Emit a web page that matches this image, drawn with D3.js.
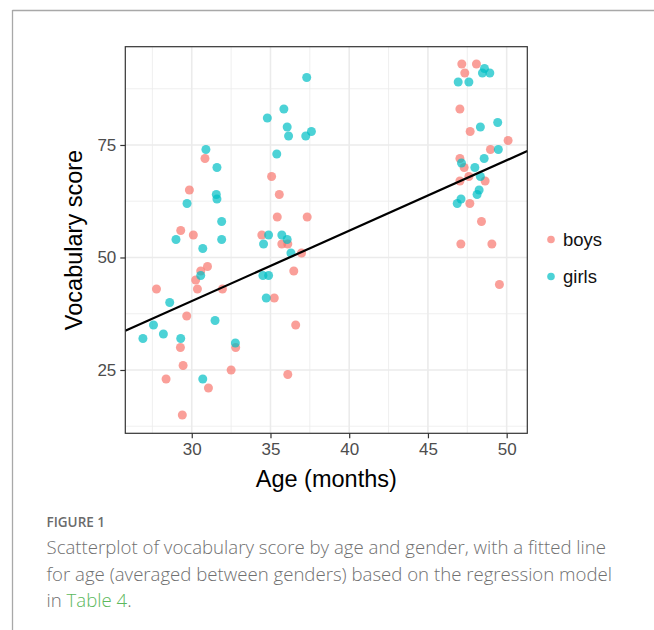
<!DOCTYPE html>
<html>
<head>
<meta charset="utf-8">
<script src="https://cdn.jsdelivr.net/npm/d3@7"></script>
<style>
  html, body { margin: 0; padding: 0; background: #fff; }
  svg { display: block; }
</style>
</head>
<body>
<svg id="chart" width="654" height="630"></svg>
<script>
// values
const boysAge = [30.84, 29.85, 29.3, 30.1, 31.0, 30.57, 30.25, 27.76, 30.36, 31.95, 29.68, 32.79, 29.28, 29.45, 32.5, 28.37, 31.06, 29.4,
  35.07, 35.56, 35.43, 37.33, 34.45, 35.72, 36.1, 36.97, 36.48, 35.24, 36.6, 36.1,
  47.15, 48.08, 47.34, 47.03, 47.68, 50.09, 48.97, 47.03, 47.3, 47.03, 47.6, 48.63, 47.66, 48.4, 47.09, 49.06, 49.54];
const boysScore = [72, 65, 56, 55, 48, 47, 45, 43, 43, 43, 37, 30, 30, 26, 25, 23, 21, 15,
  68, 64, 59, 59, 55, 53, 53, 51, 47, 41, 35, 24,
  93, 93, 91, 83, 78, 76, 74, 72, 70, 67, 68, 67, 62, 58, 53, 53, 44];
const girlsAge = [30.9, 31.6, 31.56, 31.6, 29.7, 31.9, 29.0, 31.9, 30.7, 30.57, 28.6, 31.48, 27.57, 26.9, 28.2, 29.3, 32.77, 30.7,
  37.3, 35.85, 34.8, 36.06, 37.6, 36.15, 37.24, 35.4, 34.88, 35.72, 36.06, 34.56, 36.3, 34.52, 34.88, 34.73,
  48.59, 48.46, 48.93, 46.92, 47.6, 49.43, 48.33, 49.47, 48.57, 47.13, 47.98, 48.33, 48.25, 48.12, 47.1, 46.86];
const girlsScore = [74, 70, 64, 63, 62, 58, 54, 54, 52, 46, 40, 36, 35, 32, 33, 32, 31, 23,
  90, 83, 81, 79, 78, 77, 77, 73, 55, 55, 54, 53, 51, 46, 46, 41,
  92, 91, 91, 89, 89, 80, 79, 74, 72, 71, 70, 68, 65, 64, 63, 62];

const xTicks = [30, 35, 40, 45, 50];
const yTicks = [25, 50, 75];
const groups = ['boys', 'girls'];
const groupColors = ['#F8766D', '#00BFC4'];

// fitted line: score = intercept + slope * age
const fitIntercept = -6.65;
const fitSlope = 1.565;

const captionHead = 'FIGURE 1';
const captionLines = [
  'Scatterplot of vocabulary score by age and gender, with a fitted line',
  'for age (averaged between genders) based on the regression model'
];

const svg = d3.select('#chart');
const panel = { left: 125.3, right: 527.3, top: 46.7, bottom: 433.3 };

const x = d3.scaleLinear().domain([25.78, 51.31]).range([panel.left, panel.right]);
const y = d3.scaleLinear().domain([10.93, 96.84]).range([panel.bottom, panel.top]);
const color = d3.scaleOrdinal().domain(groups).range(groupColors);

// outer figure frame
svg.append('line').attr('x1', 12.5).attr('x2', 654).attr('y1', 10.5).attr('y2', 10.5)
  .attr('stroke', '#a8a8a8').attr('stroke-width', 1.3);
svg.append('line').attr('x1', 12.5).attr('x2', 12.5).attr('y1', 10).attr('y2', 630)
  .attr('stroke', '#a8a8a8').attr('stroke-width', 1.3);

// grid
const grid = svg.append('g');
const xMinor = d3.range(27.5, 51, 5);
const yMinor = [12.5, 37.5, 62.5, 87.5];
grid.selectAll('.xmin').data(xMinor).join('line')
  .attr('x1', d => x(d)).attr('x2', d => x(d)).attr('y1', panel.top).attr('y2', panel.bottom)
  .attr('stroke', '#ebebeb').attr('stroke-width', 0.8);
grid.selectAll('.ymin').data(yMinor).join('line')
  .attr('y1', d => y(d)).attr('y2', d => y(d)).attr('x1', panel.left).attr('x2', panel.right)
  .attr('stroke', '#ebebeb').attr('stroke-width', 0.8);
grid.selectAll('.xmaj').data(xTicks).join('line')
  .attr('x1', d => x(d)).attr('x2', d => x(d)).attr('y1', panel.top).attr('y2', panel.bottom)
  .attr('stroke', '#ebebeb').attr('stroke-width', 1.6);
grid.selectAll('.ymaj').data(yTicks).join('line')
  .attr('y1', d => y(d)).attr('y2', d => y(d)).attr('x1', panel.left).attr('x2', panel.right)
  .attr('stroke', '#ebebeb').attr('stroke-width', 1.6);

// points
const points = [];
boysAge.forEach((a, i) => points.push({ age: a, score: boysScore[i], g: 'boys' }));
girlsAge.forEach((a, i) => points.push({ age: a, score: girlsScore[i], g: 'girls' }));

svg.append('g').selectAll('circle').data(points).join('circle')
  .attr('cx', d => x(d.age)).attr('cy', d => y(d.score)).attr('r', 4.5)
  .attr('fill', d => color(d.g)).attr('fill-opacity', 0.7);

// fitted line across the panel
const [x0, x1] = x.domain();
svg.append('line')
  .attr('x1', x(x0)).attr('y1', y(fitIntercept + fitSlope * x0))
  .attr('x2', x(x1)).attr('y2', y(fitIntercept + fitSlope * x1))
  .attr('stroke', '#000').attr('stroke-width', 2.2);

// panel border
svg.append('rect')
  .attr('x', panel.left).attr('y', panel.top)
  .attr('width', panel.right - panel.left).attr('height', panel.bottom - panel.top)
  .attr('fill', 'none').attr('stroke', '#333').attr('stroke-width', 1.2);

// axes
const font = 'Liberation Sans, Arial, sans-serif';
const xAxis = svg.append('g').attr('transform', `translate(0,${panel.bottom})`)
  .call(d3.axisBottom(x).tickValues(xTicks).tickSize(5).tickPadding(5));
const yAxis = svg.append('g').attr('transform', `translate(${panel.left},0)`)
  .call(d3.axisLeft(y).tickValues(yTicks).tickSize(5).tickPadding(4));
[xAxis, yAxis].forEach(ax => {
  ax.select('.domain').remove();
  ax.selectAll('.tick line').attr('stroke', '#333').attr('stroke-width', 1.2);
  ax.selectAll('.tick text').attr('fill', '#4d4d4d')
    .style('font-family', font).style('font-size', '17px');
});

svg.append('text').attr('x', (panel.left + panel.right) / 2).attr('y', 487)
  .attr('text-anchor', 'middle').style('font-family', font).style('font-size', '23.5px')
  .text('Age (months)');
svg.append('text')
  .attr('transform', `translate(82,${(panel.top + panel.bottom) / 2}) rotate(-90)`)
  .attr('text-anchor', 'middle').style('font-family', font).style('font-size', '23.5px')
  .text('Vocabulary score');

// legend
const legend = svg.append('g').selectAll('g').data(groups).join('g')
  .attr('transform', (d, i) => `translate(551,${239.5 + i * 37})`);
legend.append('circle').attr('r', 3.8).attr('fill', d => color(d)).attr('fill-opacity', 0.7);
legend.append('text').attr('x', 12).attr('dy', '0.35em')
  .style('font-family', font).style('font-size', '18.5px').attr('fill', '#111')
  .text(d => d);

// caption
const capFont = '"Open Sans", "Noto Sans", sans-serif';
svg.append('text').attr('x', 46.5).attr('y', 526.5)
  .style('font-family', capFont).style('font-size', '13.5px').style('font-weight', 600)
  .attr('fill', '#6b6b6b').text(captionHead);

const lineGap = 26.5;
const capG = svg.append('g');
const capText = capG.selectAll('text').data(captionLines).join('text')
  .attr('x', 46.5).attr('y', (d, i) => 554.3 + i * lineGap)
  .style('font-family', capFont).style('font-size', '18px').style('font-weight', 300)
  .attr('fill', '#707070').text(d => d);
const last = capG.append('text').attr('x', 46.5).attr('y', 554.3 + 2 * lineGap)
  .style('font-family', capFont).style('font-size', '18px').style('font-weight', 300)
  .attr('fill', '#707070');
last.append('tspan').text('in ');
last.append('tspan').attr('fill', '#5cb85c').text('Table 4');
last.append('tspan').text('.');

// fit caption size to the width of the first line in the picture
const w = capText.node().getComputedTextLength();
const size = 18 * 560 / w;
capG.selectAll('text').style('font-size', size + 'px');
</script>
</body>
</html>
